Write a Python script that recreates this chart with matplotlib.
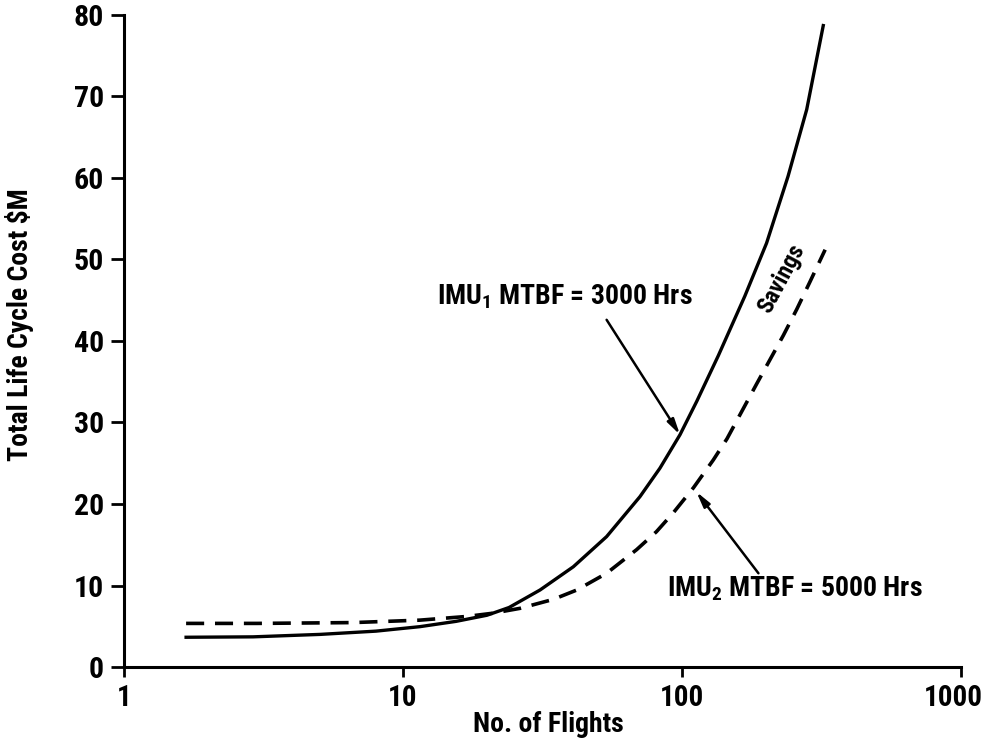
import matplotlib
matplotlib.use("Agg")
import matplotlib.pyplot as plt
from matplotlib import font_manager
from matplotlib.transforms import ScaledTranslation

# values
flights_imu1 = [1.67, 2.9, 5.04, 8.0, 11.5, 15.5, 20.0, 24, 31, 40.8, 53.7,
                70.7, 83.4, 98.4, 113, 135, 168, 201, 240, 280, 321]
cost_imu1 = [3.65, 3.7, 4.0, 4.4, 4.95, 5.6, 6.35, 7.3, 9.45, 12.3, 16.0,
             20.9, 24.4, 28.5, 32.6, 38.2, 45.5, 52.0, 60.2, 68.4, 78.7]

flights_imu2 = [1.67, 3, 6.62, 11.5, 16.9, 21, 26.3, 34.6, 42, 53.7, 68.8, 81,
                93, 110, 129.5, 145, 185, 231, 258, 288, 326]
cost_imu2 = [5.35, 5.35, 5.45, 5.75, 6.2, 6.6, 7.2, 8.3, 9.45, 11.5, 14.4, 16.6,
             18.9, 22.0, 25.4, 28.0, 34.7, 40.7, 43.9, 47.3, 51.2]

x_ticks = [1, 10, 100, 1000]
x_tick_labels = ["1", "10", "100", "1000"]
y_ticks = [0, 10, 20, 30, 40, 50, 60, 70, 80]

# look for a narrow bold sans, the reference uses a condensed face
installed = {f.name for f in font_manager.fontManager.ttflist}
condensed = [(f.name, f.stretch) for f in font_manager.fontManager.ttflist
             if str(f.stretch) in ("condensed", "semi-condensed", "extra-condensed")]

family, stretch, scale = None, "normal", 1.0
for name in ["Liberation Sans Narrow", "Arial Narrow", "Roboto Condensed",
             "DejaVu Sans Condensed", "Noto Sans Condensed", "Open Sans Condensed"]:
    if name in installed:
        family = name
        break
if family is None:
    for name, st in condensed:
        if name in ("Noto Sans", "DejaVu Sans", "Roboto", "Open Sans", "Inter"):
            family, stretch = name, "condensed"
            break
if family is None:
    family, scale = "Roboto", 0.85

plt.rcParams["font.family"] = [family, "DejaVu Sans"]
plt.rcParams["font.weight"] = "bold"
plt.rcParams["font.stretch"] = stretch


def fs(size):
    return size * scale


def main():
    fig = plt.figure(figsize=(9.87, 7.38), dpi=100)
    ax = fig.add_axes([0.1256, 0.0962, 0.848, 0.8835])

    ax.plot(flights_imu1, cost_imu1, color="black", lw=2.4)
    ax.plot(flights_imu2, cost_imu2, color="black", lw=2.6, dashes=(5, 3))

    ax.set_xscale("log")
    ax.set_xlim(1, 1000)
    ax.set_ylim(0, 80)
    ax.set_xticks(x_ticks)
    ax.set_xticklabels(x_tick_labels)
    ax.set_yticks(y_ticks)
    ax.minorticks_off()

    for side in ["top", "right"]:
        ax.spines[side].set_visible(False)
    for side in ["left", "bottom"]:
        ax.spines[side].set_linewidth(2.2)

    ax.tick_params(axis="y", direction="out", length=9.5, width=2.0,
                   labelsize=fs(21.5), pad=5)
    ax.tick_params(axis="x", direction="out", length=7, width=2.0,
                   labelsize=fs(21), pad=5)

    # the last x label sits a little left of its tick, as in the reference
    last = ax.xaxis.get_major_ticks()[-1].label1
    last.set_transform(last.get_transform()
                       + ScaledTranslation(-8 / 100, 0, fig.dpi_scale_trans))

    ax.set_xlabel("No. of Flights", fontsize=fs(20), fontweight="bold")
    ax.xaxis.set_label_coords(0.507, -0.068)
    ax.set_ylabel("Total Life Cycle Cost \\$M", fontsize=fs(20), fontweight="bold")
    ax.yaxis.set_label_coords(-0.108, 0.525)

    arrow = dict(arrowstyle="-|>,head_length=0.9,head_width=0.22",
                 color="black", lw=1.8, shrinkA=0, shrinkB=0)

    ax.text(13.2, 44.5, r"IMU$\mathregular{_1}$ MTBF = 3000 Hrs",
            fontsize=fs(20), fontweight="bold", ha="left", va="baseline")
    ax.annotate("", xy=(98.4, 28.5), xytext=(53.7, 42.6), arrowprops=arrow)

    ax.text(88.3, 8.6, r"IMU$\mathregular{_2}$ MTBF = 5000 Hrs",
            fontsize=fs(20), fontweight="bold", ha="left", va="baseline")
    ax.annotate("", xy=(112.6, 21.5), xytext=(188, 11.5), arrowprops=arrow)

    ax.text(228, 47.7, "Savings", rotation=62, fontsize=fs(17),
            fontweight="bold", ha="center", va="center")

    fig.savefig("out.png", dpi=100)


if __name__ == "__main__":
    main()
